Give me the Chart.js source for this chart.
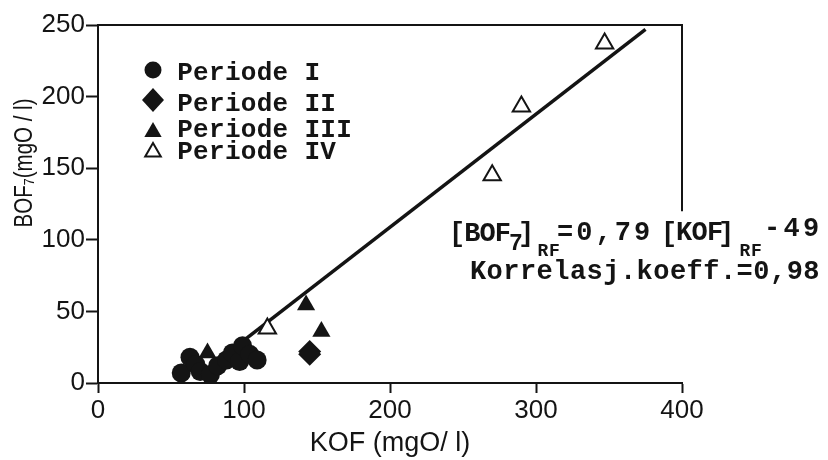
<!DOCTYPE html>
<html lang="no">
<head>
<meta charset="UTF-8" />
<title>BOF7 mot KOF</title>
<script src="https://cdn.jsdelivr.net/npm/chart.js"></script>
<style>
  html, body { margin: 0; padding: 0; background: #fff; }
  #plot { display: block; }
</style>
</head>
<body>
<canvas id="plot" width="828" height="460"></canvas>
<script>
  // KOF (x) and BOF7 (y), mgO/l, one pair of arrays per period
  const kofI   = [57, 63, 67, 70, 77, 82, 88, 92, 97, 99, 104, 109];
  const bofI   = [7, 18, 13, 8, 6, 12, 16, 21, 15, 26, 20, 16];
  const kofII  = [145, 145];
  const bofII  = [22, 20];
  const kofIII = [75, 142.5, 153];
  const bofIII = [21, 54.5, 36];
  const kofIV  = [116, 270, 290, 347];
  const bofIV  = [38, 145, 193, 237];

  // regression line end points
  const fitKof = [80, 375];
  const fitBof = [14, 247];

  const periods = ['Periode I', 'Periode II', 'Periode III', 'Periode IV'];

  const INK = '#141414';
  const SANS = "'Liberation Sans', Arial, sans-serif";
  const TYPE = "'Liberation Mono', 'Courier New', monospace";

  const toPoints = (xs, ys) => xs.map((x, i) => ({ x, y: ys[i] }));

  // top edge and the short right edge of the frame
  const framePlugin = {
    id: 'frame',
    afterDraw(chart) {
      const { ctx, chartArea: a, scales } = chart;
      ctx.save();
      ctx.strokeStyle = INK;
      ctx.lineWidth = 2;
      ctx.beginPath();
      ctx.moveTo(a.left, a.top);
      ctx.lineTo(a.right, a.top);
      ctx.lineTo(a.right, scales.y.getPixelForValue(120));
      ctx.stroke();
      ctx.restore();
    }
  };

  function marker(ctx, kind, x, y) {
    ctx.beginPath();
    if (kind === 'circle') {
      ctx.arc(x, y, 8.5, 0, Math.PI * 2);
    } else if (kind === 'diamond') {
      ctx.moveTo(x, y - 12); ctx.lineTo(x + 11, y); ctx.lineTo(x, y + 12); ctx.lineTo(x - 11, y);
    } else {
      const r = kind === 'open' ? 9 : 10;
      ctx.moveTo(x, y - r);
      ctx.lineTo(x + r * 0.866, y + r / 2);
      ctx.lineTo(x - r * 0.866, y + r / 2);
    }
    ctx.closePath();
    if (kind === 'open') {
      ctx.fillStyle = '#fff'; ctx.fill();
      ctx.lineWidth = 2; ctx.strokeStyle = INK; ctx.stroke();
    } else {
      ctx.fillStyle = INK; ctx.fill();
    }
  }

  // typewriter text: one glyph per fixed-pitch cell
  function run(ctx, text, cx, adv, base, size) {
    ctx.fillStyle = INK;
    ctx.font = `bold ${size}px ${TYPE}`;
    ctx.textAlign = 'center';
    ctx.textBaseline = 'alphabetic';
    [...text].forEach((ch, i) => ctx.fillText(ch, cx + i * adv, base));
  }

  const notesPlugin = {
    id: 'notes',
    afterDraw(chart) {
      const ctx = chart.ctx;
      ctx.save();

      // legend
      const kinds = ['circle', 'diamond', 'filled', 'open'];
      const markY = [70, 100, 132, 152];
      const textY = [80, 111, 137, 159];
      periods.forEach((name, i) => {
        marker(ctx, kinds[i], 153, markY[i]);
        run(ctx, name, 185, 15.9, textY[i], 26);
      });

      // regression equation
      run(ctx, '[BOF', 457, 15.3, 241, 27);
      run(ctx, '7', 516, 0, 250, 23);
      run(ctx, ']', 526, 0, 241, 27);
      run(ctx, 'RF', 543, 11.5, 256, 18);
      run(ctx, '=0,79', 565, 19.3, 240, 27);
      run(ctx, '[', 669, 0, 241, 27);
      run(ctx, 'KOF', 684, 15.5, 240, 27);
      run(ctx, ']', 726, 0, 241, 27);
      run(ctx, 'RF', 745, 11.5, 256, 18);
      run(ctx, '-49', 772, 19.5, 236, 27);
      run(ctx, 'Korrelasj.koeff.=0,98', 478, 16.67, 279, 27);

      // y axis title, narrowed along the text
      ctx.translate(25, 163);
      ctx.rotate(-Math.PI / 2);
      ctx.scale(0.82, 1);
      ctx.fillStyle = INK;
      ctx.font = `25px ${SANS}`;
      ctx.textAlign = 'center';
      ctx.textBaseline = 'middle';
      ctx.fillText('BOF\u2087(mgO / l)', 0, 0);
      ctx.restore();
    }
  };

  const axisStyle = {
    border: { display: true, color: INK, width: 2 },
    grid: { drawOnChartArea: false, drawTicks: true, color: INK, tickColor: INK, tickWidth: 2 },
  };

  new Chart(document.getElementById('plot'), {
    type: 'scatter',
    data: {
      datasets: [
        { label: periods[0], data: toPoints(kofI, bofI), pointStyle: 'circle', pointRadius: 9.5,
          backgroundColor: INK, borderColor: INK, borderWidth: 0 },
        { label: periods[1], data: toPoints(kofII, bofII), pointStyle: 'rectRot', pointRadius: 11.5,
          backgroundColor: INK, borderColor: INK, borderWidth: 0 },
        { label: periods[2], data: toPoints(kofIII, bofIII), pointStyle: 'triangle', pointRadius: 10.5,
          backgroundColor: INK, borderColor: INK, borderWidth: 0 },
        { label: periods[3], data: toPoints(kofIV, bofIV), pointStyle: 'triangle', pointRadius: 10,
          backgroundColor: '#fff', borderColor: INK, borderWidth: 2 },
        { type: 'line', label: 'regresjon', data: toPoints(fitKof, fitBof), showLine: true,
          borderColor: INK, borderWidth: 3.5, pointRadius: 0, fill: false }
      ]
    },
    options: {
      responsive: false,
      animation: false,
      events: [],
      layout: { padding: { left: 0, top: 25, right: 146, bottom: 0 } },
      plugins: { legend: { display: false }, tooltip: { enabled: false } },
      scales: {
        x: {
          ...axisStyle,
          grid: { ...axisStyle.grid, tickLength: 10 },
          min: 0, max: 400,
          ticks: { stepSize: 100, color: INK, padding: 2, font: { family: SANS, size: 26 } },
          title: { display: true, text: 'KOF (mgO/ l)', color: INK, padding: 0, font: { family: SANS, size: 27 } },
          afterFit(scale) { scale.height = 77; }
        },
        y: {
          ...axisStyle,
          grid: { ...axisStyle.grid, tickLength: 12 },
          min: 0, max: 250,
          ticks: { stepSize: 50, color: INK, padding: 1, font: { family: SANS, size: 26 } },
          afterFit(scale) { scale.width = 98; }
        }
      }
    },
    plugins: [framePlugin, notesPlugin]
  });
</script>
</body>
</html>
